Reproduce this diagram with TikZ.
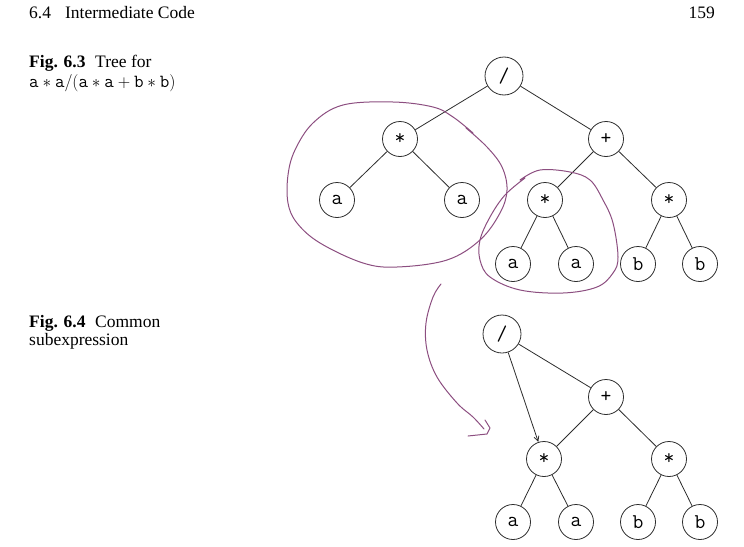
\documentclass[tikz,border=0pt]{standalone}
\usepackage{fontspec}
\setmainfont{Liberation Serif}
\usetikzlibrary{arrows.meta}
\definecolor{ink}{RGB}{45,45,45}
\definecolor{pen}{RGB}{140,78,128}
\tikzset{
  tn/.style={circle,draw=ink,line width=0.8pt,minimum size=35pt,inner sep=0pt,font=\fontsize{21}{21}\selectfont\ttfamily},
  rootn/.style={tn,minimum size=38pt},
  edge/.style={draw=ink,line width=0.8pt},
  hand/.style={draw=pen,line width=1pt,line join=round,line cap=round},
  txt/.style={anchor=base west,inner sep=0pt,font=\fontsize{17.5}{20}\selectfont}
}
\begin{document}
\begin{tikzpicture}[x=1pt,y=-1pt]
\useasboundingbox (0,0) rectangle (744,546);
% header
\node[txt] (hd) at (29,18) {6.4\hspace{0.8em}Intermediate Code};
\node[anchor=base east,inner sep=0pt,font=\fontsize{17.5}{20}\selectfont] (pg) at (715,18) {159};
% captions
\node[txt,text depth=2pt] (c3a) at (29,67) {\textbf{Fig. 6.3}\hspace{0.55em}Tree for};
\node[txt,font=\fontsize{18.5}{20}\selectfont,text height=11pt] (c3b) at (29,87) {$\mathtt{a}*\mathtt{a}/(\mathtt{a}*\mathtt{a}+\mathtt{b}*\mathtt{b})$};
\node[txt,text depth=2pt] (c4a) at (29,327) {\textbf{Fig. 6.4}\hspace{0.55em}Common};
\node[txt,text height=11pt] (c4b) at (29,345) {subexpression};
% tree 1
\node[rootn] (r1) at (504,76) {/};
\node[tn] (m1) at (400,139) {*};
\node[tn] (p1) at (606,139) {+};
\node[tn] (a1) at (337,200) {a};
\node[tn] (a2) at (462,200) {a};
\node[tn] (m2) at (545,200) {*};
\node[tn] (m3) at (669,200) {*};
\node[tn] (a3) at (513,264) {a};
\node[tn] (a4) at (576,264) {a};
\node[tn] (b1) at (638,264) {b};
\node[tn] (b2) at (700,264) {b};
\path[edge] (r1)--(m1) (r1)--(p1) (m1)--(a1) (m1)--(a2) (p1)--(m2) (p1)--(m3)
  (m2)--(a3) (m2)--(a4) (m3)--(b1) (m3)--(b2);
% tree 2
\node[rootn] (r2) at (502,334) {/};
\node[tn] (p2) at (606,397) {+};
\node[tn] (n1) at (544,459) {*};
\node[tn] (n2) at (669,459) {*};
\node[tn] (c1) at (513,522) {a};
\node[tn] (c2) at (576,522) {a};
\node[tn] (d1) at (638,522) {b};
\node[tn] (d2) at (700,522) {b};
\path[edge] (r2)--(p2) (p2)--(n1) (p2)--(n2) (n1)--(c1) (n1)--(c2) (n2)--(d1) (n2)--(d2);
\draw[edge,-{Straight Barb[length=5pt,width=5pt]}] (r2)--(n1);
% hand-drawn marks
\draw[hand] plot[smooth,tension=0.6] coordinates {(473,133) (453,117) (433,107) (393,102) (343,105) (313,123) (295,150) (288,175) (288,203) (297,223) (320,243) (363,263) (397,267) (447,260) (480,240) (500,213) (507,190) (502,167) (487,147) (466,128)};
\draw[hand] plot[smooth,tension=0.6] coordinates {(520,180) (540,170) (570,172) (590,180) (603,200) (613,223) (618,257) (613,273) (597,287) (563,293) (520,290) (490,277) (480,260) (480,240) (490,217) (505,195) (525,178)};
\coordinate (s) at (441,284);
\coordinate (e) at (484,429);
\draw[hand] plot[smooth,tension=0.6] coordinates {(s) (433,297) (426,323) (427,350) (437,377) (457,403) (473,417) (e)};
\draw[hand] (468,436) -- (487,434) -- (490,428) -- (485,420);
\end{tikzpicture}
\end{document}
